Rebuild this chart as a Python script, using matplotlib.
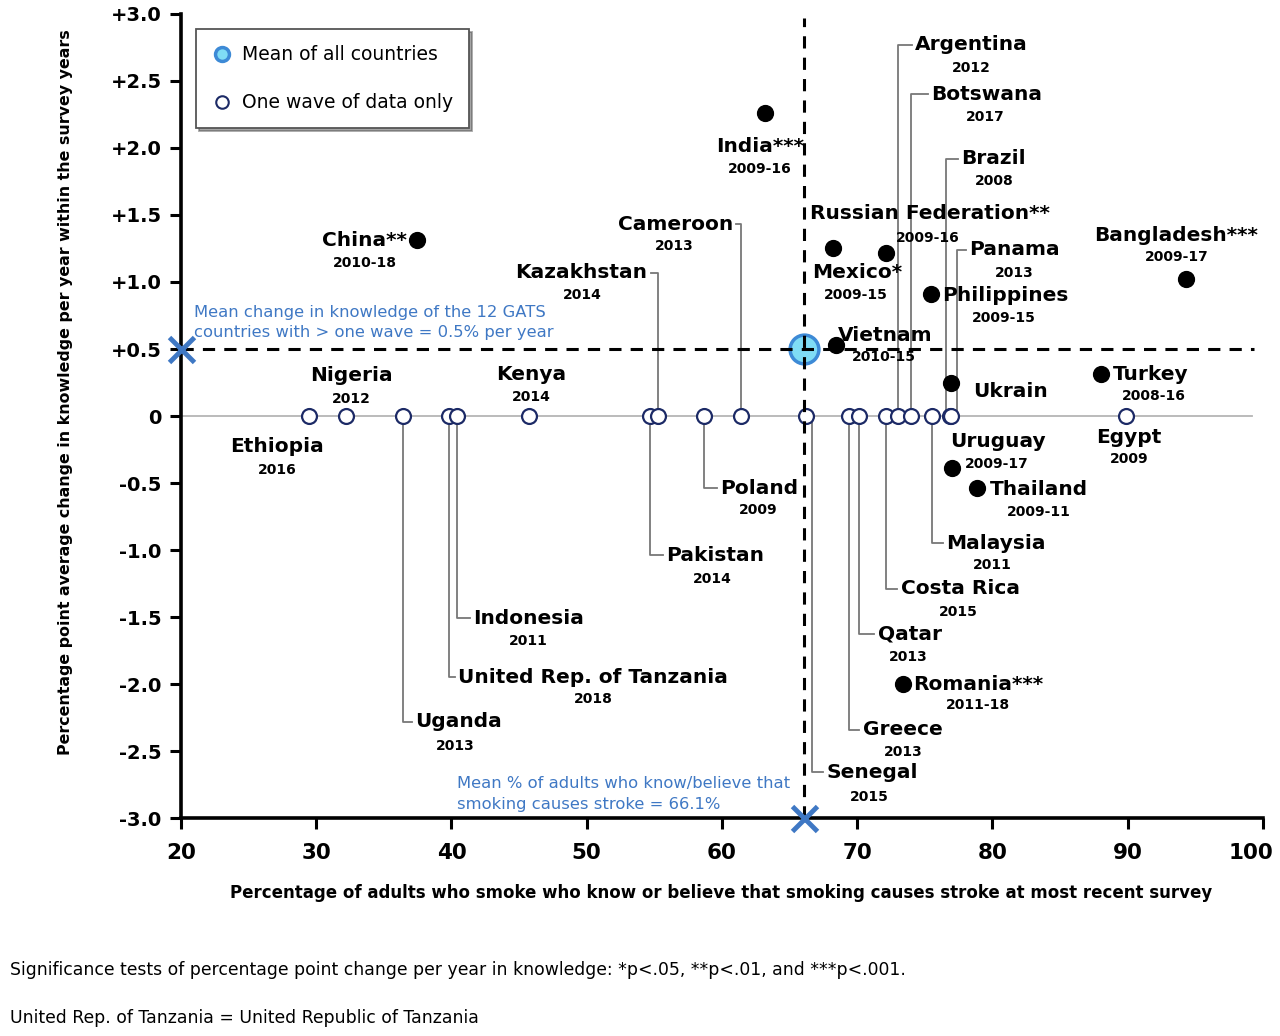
import matplotlib
matplotlib.use("Agg")
import matplotlib.pyplot as plt
import matplotlib.transforms as mtransforms
from matplotlib.lines import Line2D

plt.rcParams['font.family'] = ['DejaVu Sans']

# countries with more than one survey wave (filled dots)
multi_names = ['India***', 'China**', 'Russian Federation**', 'Mexico*', 'Philippines',
               'Bangladesh***', 'Vietnam', 'Turkey', 'Ukrain', 'Uruguay', 'Thailand',
               'Romania***']
multi_years = ['2009-16', '2010-18', '2009-16', '2009-15', '2009-15', '2009-17',
               '2010-15', '2008-16', '', '2009-17', '2009-11', '2011-18']
multi_x = [63.2, 37.45, 72.1, 68.2, 75.45, 94.3, 68.4, 88.0, 76.9, 77.0, 78.85, 73.4]
multi_y = [2.26, 1.31, 1.22, 1.25, 0.91, 1.02, 0.53, 0.31, 0.25, -0.39, -0.54, -2.0]

# countries with one wave only (open circles, change = 0)
single_names = ['Ethiopia', 'Nigeria', 'Uganda', 'United Rep. of Tanzania', 'Indonesia',
                'Kenya', 'Pakistan', 'Kazakhstan', 'Poland', 'Cameroon', 'Senegal',
                'Greece', 'Qatar', 'Costa Rica', 'Argentina', 'Botswana', 'Malaysia',
                'Brazil', 'Panama', 'Egypt']
single_years = ['2016', '2012', '2013', '2018', '2011', '2014', '2014', '2014', '2009',
                '2013', '2015', '2013', '2013', '2015', '2012', '2017', '2011', '2008',
                '2013', '2009']
single_x = [29.5, 32.2, 36.4, 39.8, 40.4, 45.7, 54.7, 55.3, 58.7, 61.4, 66.2, 69.4,
            70.1, 72.1, 73.0, 74.0, 75.5, 76.85, 76.95, 89.9]

mean_x = 66.1
mean_y = 0.5

yticks = [-3.0, -2.5, -2.0, -1.5, -1.0, -0.5, 0, 0.5, 1.0, 1.5, 2.0, 2.5, 3.0]
ytick_labels = ['-3.0', '-2.5', '-2.0', '-1.5', '-1.0', '-0.5', '0',
                '+0.5', '+1.0', '+1.5', '+2.0', '+2.5', '+3.0']
xticks = [20, 30, 40, 50, 60, 70, 80, 90, 100]

# label layout: name x, name y, alignment, year x, year y
multi_layout = {
    'India***': (62.8, 2.01, 'center', 62.8, 1.84),
    'China**': (33.6, 1.31, 'center', 33.6, 1.14),
    'Russian Federation**': (66.5, 1.51, 'left', 75.2, 1.33),
    'Mexico*': (66.65, 1.07, 'left', 69.9, 0.90),
    'Philippines': (76.3, 0.90, 'left', 80.85, 0.73),
    'Bangladesh***': (93.6, 1.35, 'center', 93.6, 1.19),
    'Vietnam': (68.6, 0.60, 'left', 72.0, 0.44),
    'Turkey': (88.9, 0.31, 'left', 91.9, 0.15),
    'Ukrain': (78.6, 0.18, 'left', 0, 0),
    'Uruguay': (76.9, -0.19, 'left', 80.3, -0.36),
    'Thailand': (79.8, -0.55, 'left', 83.4, -0.72),
    'Romania***': (74.1, -2.0, 'left', 78.9, -2.16),
}

# leader level (None = no leader), leader x shift, name x, name y, align, year x, year y
single_layout = {
    'Ethiopia': (None, 0, 27.1, -0.23, 'center', 27.1, -0.40),
    'Nigeria': (None, 0, 32.6, 0.30, 'center', 32.6, 0.13),
    'Uganda': (-2.28, 0, 37.3, -2.28, 'left', 40.3, -2.46),
    'United Rep. of Tanzania': (-1.95, 0, 40.5, -1.95, 'left', 50.5, -2.11),
    'Indonesia': (-1.51, 0, 41.6, -1.51, 'left', 45.7, -1.68),
    'Kenya': (None, 0, 45.9, 0.31, 'center', 45.9, 0.14),
    'Pakistan': (-1.04, 0, 55.9, -1.04, 'left', 59.3, -1.22),
    'Kazakhstan': (1.07, 0, 54.5, 1.07, 'right', 49.7, 0.90),
    'Poland': (-0.54, 0, 59.85, -0.54, 'left', 62.7, -0.70),
    'Cameroon': (1.43, 0, 60.8, 1.43, 'right', 56.45, 1.27),
    'Senegal': (-2.66, 0.45, 67.7, -2.66, 'left', 70.9, -2.84),
    'Greece': (-2.34, 0, 70.4, -2.34, 'left', 73.4, -2.51),
    'Qatar': (-1.63, 0, 71.5, -1.63, 'left', 73.75, -1.80),
    'Costa Rica': (-1.29, 0, 73.2, -1.29, 'left', 77.45, -1.46),
    'Argentina': (2.77, 0, 74.3, 2.77, 'left', 78.4, 2.60),
    'Botswana': (2.40, 0, 75.5, 2.40, 'left', 79.5, 2.23),
    'Malaysia': (-0.95, 0, 76.6, -0.95, 'left', 80.0, -1.11),
    'Brazil': (1.92, -0.3, 77.7, 1.92, 'left', 80.1, 1.75),
    'Panama': (1.24, 0.45, 78.3, 1.24, 'left', 81.6, 1.07),
    'Egypt': (None, 0, 90.1, -0.16, 'center', 90.1, -0.32),
}

blue = '#3f78c4'
navy = '#1c2a66'
name_size = 14.5
year_size = 10

fig = plt.figure(figsize=(12.8, 10.36), dpi=100)
ax = fig.add_axes([0.1414, 0.2104, 0.8453, 0.7761])

ax.axhline(0, xmin=0, xmax=0.99, color='#b5b5b5', lw=1.3, zorder=1)
ax.axhline(mean_y, xmin=0, xmax=0.992, color='black', lw=2.2, ls=(0, (4, 3)), zorder=5)
ax.axvline(mean_x, ymin=0, ymax=0.995, color='black', lw=2.2, ls=(0, (4, 3)), zorder=5)

# leader lines for the one-wave countries
for name, x in zip(single_names, single_x):
    lead_y, shift, nx, ny, ha, yx, yy = single_layout[name]
    if lead_y is None:
        continue
    lx = x + shift
    if ha == 'right':
        hook = nx + 0.25
    else:
        hook = nx - 0.25
    ax.plot([lx, lx, hook], [0, lead_y, lead_y], color='#777777', lw=1.3, zorder=2)

ax.scatter(single_x, [0] * len(single_x), s=115, facecolor='white', edgecolor=navy,
           linewidth=1.6, zorder=3)
ax.scatter(multi_x, multi_y, s=130, color='black', zorder=3)
ax.scatter([mean_x], [mean_y], s=430, facecolor='#7fdcf5', edgecolor='#3d8ad6',
           linewidth=2.5, zorder=4)

ax.plot([20], [mean_y], marker='x', ms=18, mew=3.5, color=blue, clip_on=False, zorder=6)
ax.plot([mean_x], [-3.0], marker='x', ms=18, mew=3.5, color=blue, clip_on=False, zorder=6)

for name, year in zip(single_names, single_years):
    lead_y, shift, nx, ny, ha, yx, yy = single_layout[name]
    ax.text(nx, ny, name, ha=ha, va='center', fontsize=name_size, fontweight='bold')
    ax.text(yx, yy, year, ha='center', va='center', fontsize=year_size, fontweight='bold')

for name, year in zip(multi_names, multi_years):
    nx, ny, ha, yx, yy = multi_layout[name]
    ax.text(nx, ny, name, ha=ha, va='center', fontsize=name_size, fontweight='bold')
    if year:
        ax.text(yx, yy, year, ha='center', va='center', fontsize=year_size, fontweight='bold')

ax.text(20.95, 0.70, 'Mean change in knowledge of the 12 GATS\ncountries with > one wave = 0.5% per year',
        ha='left', va='center', fontsize=11.8, color=blue, linespacing=1.45)
ax.text(40.4, -2.82, 'Mean % of adults who know/believe that\nsmoking causes stroke = 66.1%',
        ha='left', va='center', fontsize=11.8, color=blue, linespacing=1.45)

handles = [
    Line2D([], [], marker='o', ls='', ms=10, mfc='#7fdcf5', mec='#3d8ad6', mew=2.5),
    Line2D([], [], marker='o', ls='', ms=9, mfc='white', mec=navy, mew=1.5),
]
leg = ax.legend(handles, ['Mean of all countries', 'One wave of data only'],
                loc='upper left', bbox_to_anchor=(0.0139, 0.981), frameon=True,
                fancybox=False, shadow=True, edgecolor='#555555', fontsize=13.5,
                labelspacing=1.55, handletextpad=0.5, borderpad=0.85, handlelength=1.1,
                borderaxespad=0)
leg.get_frame().set_linewidth(1.3)

ax.set_xlim(20, 100)
ax.set_ylim(-3, 3)
ax.set_xticks(xticks)
ax.set_xticklabels([str(t) for t in xticks], fontsize=15.5, fontweight='bold')
ax.set_yticks(yticks)
ax.set_yticklabels(ytick_labels, fontsize=14, fontweight='bold')
ax.tick_params(axis='both', direction='out', length=8, width=2.2, pad=6)
ax.tick_params(axis='x', pad=10)
# pull the last x label in so it stays on the canvas
last = ax.get_xticklabels()[-1]
last.set_transform(last.get_transform() + mtransforms.ScaledTranslation(-12 / 100, 0, fig.dpi_scale_trans))

for side in ['top', 'right']:
    ax.spines[side].set_visible(False)
for side in ['left', 'bottom']:
    ax.spines[side].set_linewidth(2.6)

ax.set_xlabel('Percentage of adults who smoke who know or believe that smoking causes stroke at most recent survey',
              fontsize=12, fontweight='bold')
ax.xaxis.set_label_coords(0.499, -0.082)
ax.set_ylabel('Percentage point average change in knowledge per year within the survey years',
              fontsize=11.4, fontweight='bold')
ax.yaxis.set_label_coords(-0.1, 0.53)

fig.text(10 / 1280, 1 - 970 / 1036,
         'Significance tests of percentage point change per year in knowledge: *p<.05, **p<.01, and ***p<.001.',
         ha='left', va='center', fontsize=12.4)
fig.text(10 / 1280, 1 - 1018 / 1036, 'United Rep. of Tanzania = United Republic of Tanzania',
         ha='left', va='center', fontsize=12.4)

fig.savefig('out.png', dpi=100)
